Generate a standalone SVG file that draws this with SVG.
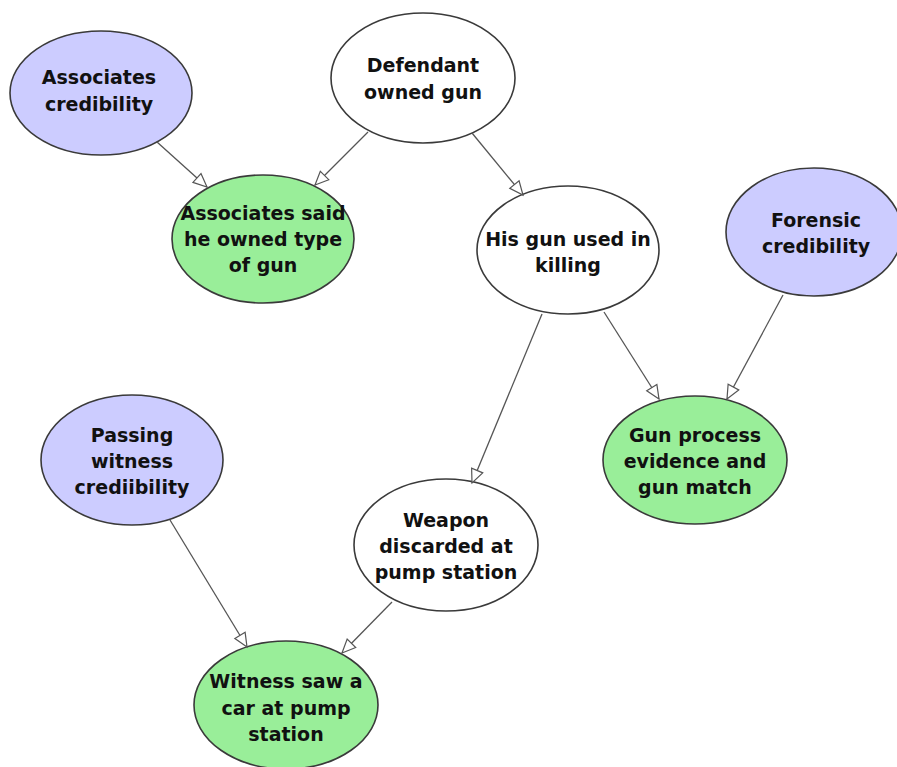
<svg xmlns="http://www.w3.org/2000/svg" width="897" height="767" viewBox="0 0 897 767">
<style>
.n{stroke:#3a3a3a;stroke-width:1.6}
.blue{fill:#ccccff}
.green{fill:#99ee99}
.white{fill:#ffffff}
text{font-family:"DejaVu Sans","Liberation Sans",sans-serif;font-weight:bold;font-size:19px;fill:#111;text-anchor:middle}
.e{stroke:#555;stroke-width:1.3;fill:none;marker-end:url(#arr)}
</style>
<defs>
<marker id="arr" markerUnits="userSpaceOnUse" markerWidth="16" markerHeight="14" refX="14" refY="6.5" orient="auto" overflow="visible">
<path d="M0.5,0.5 L14,6.5 L0.5,12.5 Z" fill="#ffffff" stroke="#555" stroke-width="1.2"/>
</marker>
</defs>
<rect width="897" height="767" fill="#ffffff"/>
<g id="n-assoc-cred"><ellipse class="n blue" cx="101" cy="93" rx="91" ry="62"/><text x="99" y="84">Associates</text><text x="99" y="111">credibility</text></g>
<g id="n-defendant"><ellipse class="n white" cx="423" cy="78" rx="92" ry="65"/><text x="423" y="72">Defendant</text><text x="423" y="99">owned gun</text></g>
<g id="n-assoc-said"><ellipse class="n green" cx="263" cy="239" rx="91" ry="64"/><text x="263" y="220">Associates said</text><text x="263" y="246">he owned type</text><text x="263" y="272">of gun</text></g>
<g id="n-his-gun"><ellipse class="n white" cx="568" cy="250" rx="91" ry="64"/><text x="568" y="246">His gun used in</text><text x="568" y="272">killing</text></g>
<g id="n-forensic"><ellipse class="n blue" cx="814" cy="232" rx="88" ry="64"/><text x="816" y="227">Forensic</text><text x="816" y="253">credibility</text></g>
<g id="n-gun-process"><ellipse class="n green" cx="695" cy="460" rx="92" ry="64"/><text x="695" y="442">Gun process</text><text x="695" y="468">evidence and</text><text x="695" y="494">gun match</text></g>
<g id="n-passing"><ellipse class="n blue" cx="132" cy="460" rx="91" ry="65"/><text x="132" y="442">Passing</text><text x="132" y="468">witness</text><text x="132" y="494">crediibility</text></g>
<g id="n-weapon"><ellipse class="n white" cx="446" cy="545" rx="92" ry="66"/><text x="446" y="527">Weapon</text><text x="446" y="553">discarded at</text><text x="446" y="579">pump station</text></g>
<g id="n-witness"><ellipse class="n green" cx="286" cy="705" rx="92" ry="64"/><text x="286" y="688">Witness saw a</text><text x="286" y="715">car at pump</text><text x="286" y="741">station</text></g>
<g id="connectors">
<line class="e" x1="157" y1="142" x2="207" y2="187"/>
<line class="e" x1="368" y1="132" x2="315" y2="185"/>
<line class="e" x1="472" y1="133" x2="523" y2="195"/>
<line class="e" x1="604" y1="312" x2="659" y2="399"/>
<line class="e" x1="783" y1="295" x2="727" y2="399"/>
<line class="e" x1="542" y1="314" x2="472" y2="483"/>
<line class="e" x1="170" y1="520" x2="247" y2="647"/>
<line class="e" x1="392" y1="602" x2="342" y2="653"/>
</g>
</svg>
